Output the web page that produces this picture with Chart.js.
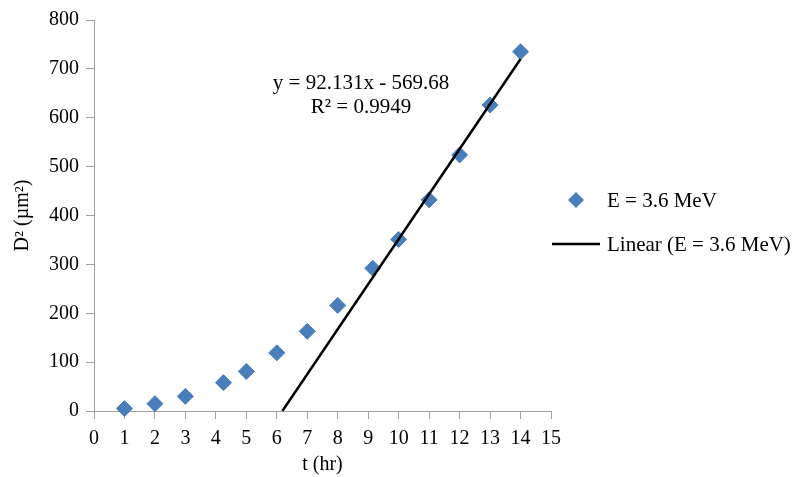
<!DOCTYPE html>
<html>
<head>
<meta charset="utf-8">
<script src="https://cdn.jsdelivr.net/npm/chart.js@4.4.0/dist/chart.umd.min.js"></script>
<style>
html, body { margin: 0; padding: 0; background: #fff; }
#wrap { width: 797px; height: 477px; }
</style>
</head>
<body>
<div id="wrap"><canvas id="myChart" width="797" height="477"></canvas></div>
<script>
// data
var timeHr = [1, 2, 3, 4.25, 5, 6, 7, 8, 9.15, 10, 11, 12, 13, 14];
var diamSq = [5, 15, 30, 58, 81, 119, 163, 216, 292, 351, 432, 524, 626, 735];

// linear trendline as printed on the chart
var fitSlope = 92.131;
var fitIntercept = -569.68;
var fitX = [6.1833, 14];
var fitText = ['y = 92.131x - 569.68', 'R\u00b2 = 0.9949'];

var xTicks = [0, 1, 2, 3, 4, 5, 6, 7, 8, 9, 10, 11, 12, 13, 14, 15];
var yTicks = [0, 100, 200, 300, 400, 500, 600, 700, 800];

var seriesName = 'E = 3.6 MeV';
var fitName = 'Linear (E = 3.6 MeV)';

var axisGray = '#a0a0a0';
var blue = '#4a7ebb';
var serif = '"Liberation Serif", "Times New Roman", serif';

var scatterPts = timeHr.map(function (t, i) { return { x: t, y: diamSq[i] }; });
var fitPts = fitX.map(function (t) { return { x: t, y: fitSlope * t + fitIntercept }; });

// legend + equation drawn on the right / over the plot
var sideLegend = {
    id: 'sideLegend',
    afterDraw: function (chart) {
        var ctx = chart.ctx;
        var ds = chart.data.datasets;
        ctx.save();
        ctx.font = '21px ' + serif;
        ctx.fillStyle = '#000';
        ctx.textBaseline = 'middle';
        ctx.textAlign = 'left';

        // diamond entry
        var cx = 576, cy = 200, r = 8;
        ctx.beginPath();
        ctx.moveTo(cx - r, cy);
        ctx.lineTo(cx, cy - r);
        ctx.lineTo(cx + r, cy);
        ctx.lineTo(cx, cy + r);
        ctx.closePath();
        ctx.fillStyle = ds[0].backgroundColor;
        ctx.fill();
        ctx.fillStyle = '#000';
        ctx.fillText(ds[0].label, 607, 201);

        // line entry
        ctx.beginPath();
        ctx.moveTo(552, 244);
        ctx.lineTo(600, 244);
        ctx.strokeStyle = ds[1].borderColor;
        ctx.lineWidth = ds[1].borderWidth;
        ctx.stroke();
        ctx.fillText(ds[1].label, 607, 245);

        // trendline equation
        ctx.textAlign = 'center';
        ctx.fillText(fitText[0], 361, 83);
        ctx.fillText(fitText[1], 361, 107);
        ctx.restore();
    }
};

var ctx = document.getElementById('myChart').getContext('2d');
var myChart = new Chart(ctx, {
    type: 'scatter',
    data: {
        datasets: [{
            label: seriesName,
            data: scatterPts,
            backgroundColor: blue,
            borderColor: blue,
            borderWidth: 1,
            pointStyle: 'rectRot',
            pointRadius: 8,
            clip: false,
            order: 1
        }, {
            type: 'line',
            label: fitName,
            data: fitPts,
            borderColor: '#000',
            borderWidth: 2.5,
            pointRadius: 0,
            fill: false,
            order: 0
        }]
    },
    options: {
        responsive: false,
        animation: false,
        devicePixelRatio: 1,
        layout: { padding: { left: 7, right: 246, top: 20, bottom: 0 } },
        plugins: {
            legend: { display: false },
            tooltip: { enabled: false }
        },
        scales: {
            x: {
                type: 'linear',
                min: 0,
                max: 15,
                afterBuildTicks: function (s) { s.ticks = xTicks.map(function (v) { return { value: v }; }); },
                afterFit: function (s) { s.height = 66; },
                grid: { display: true, drawOnChartArea: false, drawTicks: true, tickLength: 8, color: axisGray },
                border: { color: axisGray },
                ticks: { color: '#000', padding: 8, font: { family: serif, size: 20 }, maxRotation: 0 },
                title: { display: true, text: 't (hr)', color: '#000', font: { family: serif, size: 20 }, padding: { top: 0, bottom: 0 } }
            },
            y: {
                min: 0,
                max: 800,
                afterBuildTicks: function (s) { s.ticks = yTicks.map(function (v) { return { value: v }; }); },
                afterFit: function (s) { s.width = 87; },
                grid: { display: true, drawOnChartArea: false, drawTicks: true, tickLength: 8, color: axisGray },
                border: { color: axisGray },
                ticks: { color: '#000', padding: 7, font: { family: serif, size: 20 } },
                title: { display: true, text: 'D\u00b2 (\u00b5m\u00b2)', color: '#000', font: { family: serif, size: 20 }, padding: { top: 4, bottom: 4 } }
            }
        }
    },
    plugins: [sideLegend]
});
</script>
</body>
</html>
